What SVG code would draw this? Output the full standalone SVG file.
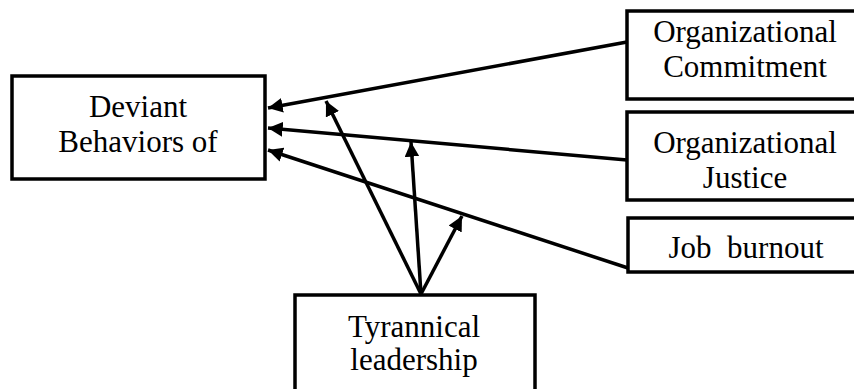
<svg xmlns="http://www.w3.org/2000/svg" width="854" height="389" viewBox="0 0 854 389">
<defs>
<style>
.box{fill:#fff;stroke:#000;stroke-width:3.5}
.t{font-family:"Liberation Serif","Times New Roman",serif;font-size:31px;fill:#000;text-anchor:middle;white-space:pre}
.c{stroke:#000;stroke-width:3.5;fill:none;marker-end:url(#ah)}
</style>
<marker id="ah" viewBox="0 0 10 10" refX="10" refY="5" markerWidth="4.2" markerHeight="4.2" markerUnits="strokeWidth" orient="auto">
<path d="M0,0 L10,5 L0,10 z" fill="#000"/>
</marker>
</defs>
<rect width="854" height="389" fill="#fff"/>
<g id="deviant">
<rect class="box" x="12" y="76" width="253" height="103"/>
<text class="t" x="138" y="117">Deviant</text>
<text class="t" x="138" y="152">Behaviors of</text>
</g>
<g id="commitment">
<rect class="box" x="627" y="11" width="240" height="88"/>
<text class="t" x="745" y="42">Organizational</text>
<text class="t" x="745" y="77">Commitment</text>
</g>
<g id="justice">
<rect class="box" x="627" y="112" width="240" height="88"/>
<text class="t" x="745" y="153">Organizational</text>
<text class="t" x="745" y="188">Justice</text>
</g>
<g id="burnout">
<rect class="box" x="628" y="218" width="240" height="54"/>
<text class="t" x="746" y="258">Job  burnout</text>
</g>
<g id="tyrannical">
<rect class="box" x="295" y="295" width="240" height="110"/>
<text class="t" x="414" y="337">Tyrannical</text>
<text class="t" x="414" y="370">leadership</text>
</g>
<g id="connectors">
<path class="c" d="M627,42 L268,108"/>
<path class="c" d="M627,160 L268,128"/>
<path class="c" d="M628,268 L268,150"/>
<path class="c" d="M421,294 L326,101"/>
<path class="c" d="M421,294 L411,142"/>
<path class="c" d="M421,294 L462,216"/>
</g>
</svg>
